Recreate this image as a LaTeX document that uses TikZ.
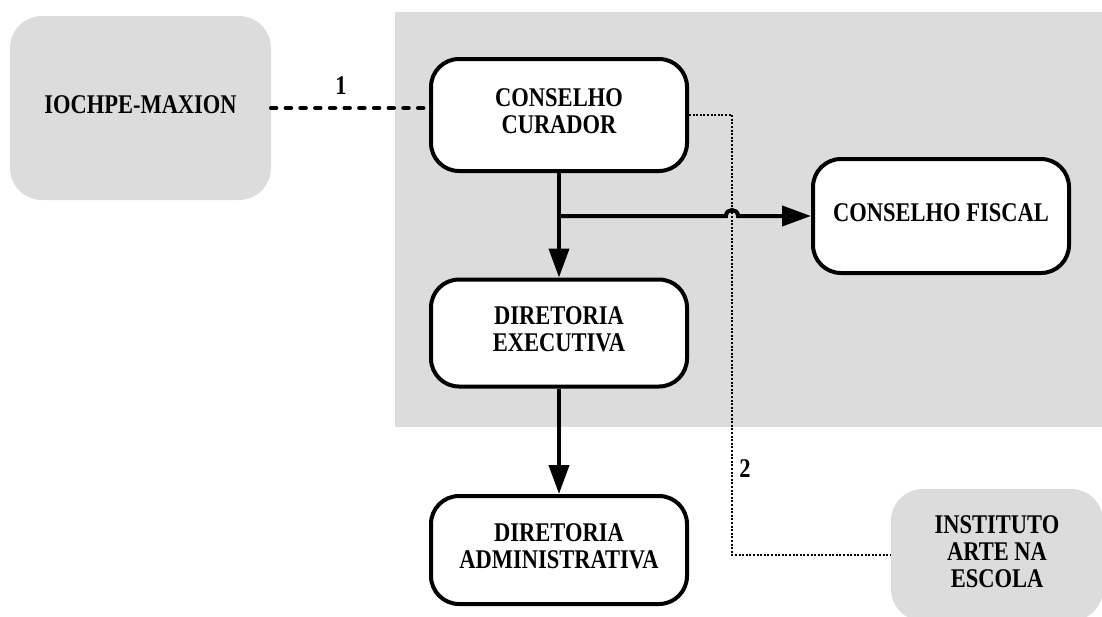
\documentclass[tikz,border=0pt]{standalone}
\usepackage{fontspec}
\setmainfont{Liberation Serif}
\usetikzlibrary{arrows.meta}
\definecolor{bg}{RGB}{220,220,220}
\newcommand{\tallbox}[1]{\scalebox{1}[1.2]{\fontsize{22.5}{22.5}\selectfont\bfseries\begin{tabular}{@{}c@{}}#1\end{tabular}}}
\tikzset{
  boxtext/.style={align=center, inner sep=0pt},
  whitebox/.style={boxtext, draw=black, line width=4pt, rounded corners=28pt, fill=white, minimum width=256pt, minimum height=112pt},
  graybox/.style={boxtext, fill=bg, rounded corners=32pt},
  thickarrow/.style={line width=4pt, -{Triangle[length=29pt,width=20pt]}},
  linkone/.style={line width=4.5pt, line cap=round, dash pattern=on 5pt off 9.7pt},
  linktwo/.style={line width=1.3pt, dash pattern=on 2pt off 1.6pt},
  numlabel/.style={inner sep=0pt}
}
\begin{document}
\begin{tikzpicture}[x=1pt,y=-1pt]
\useasboundingbox (0,0) rectangle (1102,616);
\clip (0,0) rectangle (1102,616);
\fill[bg] (395,12) rectangle (1102,427);
\node[graybox, minimum width=261pt, minimum height=184pt] (iochpe) at (140.5,108) {\tallbox{IOCHPE-MAXION}};
\node[whitebox, minimum height=112pt] (cc) at (559,115) {\tallbox{CONSELHO\\CURADOR}};
\node[whitebox, minimum height=114pt] (cf) at (941,216) {\tallbox{CONSELHO FISCAL}};
\node[whitebox, minimum height=107pt] (de) at (559,333) {\tallbox{DIRETORIA\\EXECUTIVA}};
\node[whitebox, minimum height=108pt] (da) at (559,550) {\tallbox{DIRETORIA\\ADMINISTRATIVA}};
\node[graybox, minimum width=212pt, minimum height=132pt] (inst) at (997,555) {\tallbox{INSTITUTO\\ARTE NA\\ESCOLA}};
\coordinate (c2) at (732,115);
\coordinate (br) at (cc.south |- cf.west);
\coordinate (hop) at (c2 |- cf.west);
% link 1
\draw[linkone] (iochpe.east) -- (cc.west |- iochpe.east);
\node[numlabel] (l1) at (341,89) {\tallbox{1}};
% link 2
\draw[linktwo] (cc.east) -- (c2) |- (inst.west);
\node[numlabel] (l2) at (745,472) {\tallbox{2}};
% hierarchy
\draw[thickarrow] (cc.south) -- (de.north);
\draw[thickarrow] (br) -- ([xshift=-6pt]hop) .. controls ([xshift=-6pt,yshift=8pt]hop) and ([xshift=6pt,yshift=8pt]hop) .. ([xshift=6pt]hop) -- (cf.west);
\draw[thickarrow] (de.south) -- (da.north);
\end{tikzpicture}
\end{document}
